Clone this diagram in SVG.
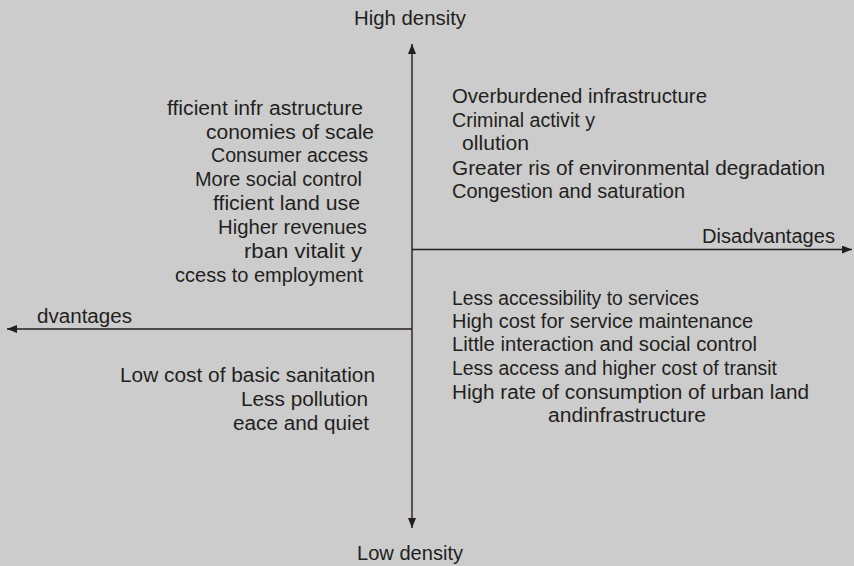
<svg xmlns="http://www.w3.org/2000/svg" width="854" height="566" viewBox="0 0 854 566">
<defs>
<style>
text{font-family:"Liberation Sans",Arial,sans-serif;font-size:20px;fill:#231f20}
.ax{stroke:#231f20;stroke-width:1.4;fill:none}
</style>
<marker id="ah" viewBox="0 0 10 8" refX="10" refY="4" markerWidth="10" markerHeight="8" markerUnits="userSpaceOnUse" orient="auto">
<path d="M0,0 L10,4 L0,8 Z" fill="#231f20"/>
</marker>
</defs>
<rect width="854" height="566" fill="#cccccc"/>
<g id="connectors">
<line class="ax" x1="412" y1="290" x2="412" y2="44" marker-end="url(#ah)"/>
<line class="ax" x1="412" y1="290" x2="412" y2="528" marker-end="url(#ah)"/>
<line class="ax" x1="412" y1="249.5" x2="852" y2="249.5" marker-end="url(#ah)"/>
<line class="ax" x1="412" y1="329" x2="7" y2="329" marker-end="url(#ah)"/>
</g>
<g id="axis-labels">
<text x="354" y="25" textLength="112" lengthAdjust="spacingAndGlyphs">High density</text>
<text x="357" y="560" textLength="106" lengthAdjust="spacingAndGlyphs">Low density</text>
<text x="702" y="243" textLength="133" lengthAdjust="spacingAndGlyphs">Disadvantages</text>
<text x="37" y="322.5" textLength="95" lengthAdjust="spacingAndGlyphs">dvantages</text>
</g>
<g id="high-density-advantages">
<text x="167" y="114.5" textLength="196" lengthAdjust="spacingAndGlyphs">fficient infr astructure</text>
<text x="206" y="138.5" textLength="168" lengthAdjust="spacingAndGlyphs">conomies of scale</text>
<text x="211" y="162" textLength="157" lengthAdjust="spacingAndGlyphs">Consumer access</text>
<text x="195" y="186" textLength="167" lengthAdjust="spacingAndGlyphs">More social control</text>
<text x="213" y="210" textLength="147" lengthAdjust="spacingAndGlyphs">fficient land use</text>
<text x="218" y="234" textLength="149" lengthAdjust="spacingAndGlyphs">Higher revenues</text>
<text x="244" y="257.5" textLength="118" lengthAdjust="spacingAndGlyphs">rban vitalit y</text>
<text x="175" y="281.5" textLength="188" lengthAdjust="spacingAndGlyphs">ccess to employment</text>
</g>
<g id="high-density-disadvantages">
<text x="452" y="103" textLength="255" lengthAdjust="spacingAndGlyphs">Overburdened infrastructure</text>
<text x="452" y="126.5" textLength="143" lengthAdjust="spacingAndGlyphs">Criminal activit y</text>
<text x="462" y="150" textLength="67" lengthAdjust="spacingAndGlyphs">ollution</text>
<text x="452" y="174.5" textLength="373" lengthAdjust="spacingAndGlyphs">Greater ris of environmental degradation</text>
<text x="452" y="198" textLength="233" lengthAdjust="spacingAndGlyphs">Congestion and saturation</text>
</g>
<g id="low-density-disadvantages">
<text x="452" y="305" textLength="247" lengthAdjust="spacingAndGlyphs">Less accessibility to services</text>
<text x="452" y="328" textLength="301" lengthAdjust="spacingAndGlyphs">High cost for service maintenance</text>
<text x="452" y="351" textLength="305" lengthAdjust="spacingAndGlyphs">Little interaction and social control</text>
<text x="452" y="374.5" textLength="325" lengthAdjust="spacingAndGlyphs">Less access and higher cost of transit</text>
<text x="452" y="398.5" textLength="357" lengthAdjust="spacingAndGlyphs">High rate of consumption of urban land</text>
<text x="548" y="421.5" textLength="158" lengthAdjust="spacingAndGlyphs">andinfrastructure</text>
</g>
<g id="low-density-advantages">
<text x="120" y="381.5" textLength="255" lengthAdjust="spacingAndGlyphs">Low cost of basic sanitation</text>
<text x="241" y="406" textLength="127" lengthAdjust="spacingAndGlyphs">Less pollution</text>
<text x="233" y="429.5" textLength="136" lengthAdjust="spacingAndGlyphs">eace and quiet</text>
</g>
</svg>
